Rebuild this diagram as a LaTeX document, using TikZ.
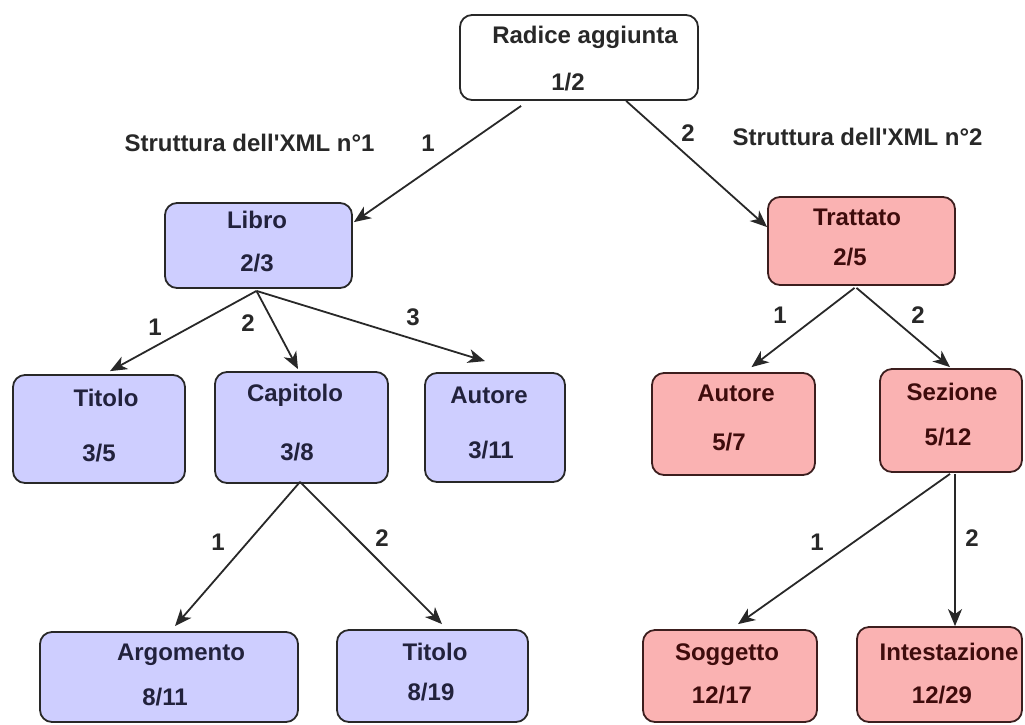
\documentclass[tikz,border=0pt]{standalone}
\usepackage{fontspec}
\setmainfont{Liberation Sans}
\usetikzlibrary{arrows.meta,calc}

\definecolor{lavfill}{RGB}{206,206,255}
\definecolor{rosefill}{RGB}{250,178,178}
\definecolor{lavtext}{RGB}{34,34,60}
\definecolor{rosetext}{RGB}{62,12,12}
\definecolor{inkgray}{RGB}{40,40,40}
\definecolor{roseedge}{RGB}{60,30,30}

\begin{document}
\begin{tikzpicture}[x=1pt,y=-1pt,
  every node/.style={font=\fontsize{24}{28}\selectfont\bfseries},
  box/.style={draw=inkgray, line width=1.8pt, rounded corners=12pt, inner sep=0pt},
  rootbox/.style={box, fill=white},
  bluebox/.style={box, fill=lavfill},
  pinkbox/.style={box, draw=roseedge, fill=rosefill},
  txt/.style={inner sep=0pt, text height=17pt, text depth=0pt, anchor=center, text=inkgray},
  bluetxt/.style={txt, text=lavtext},
  pinktxt/.style={txt, text=rosetext},
  link/.style={draw=inkgray, line width=1.8pt, -{Stealth[length=17pt,width=14pt,inset=5pt]}}
]
\useasboundingbox (0,0) rectangle (1025,724);

% ---- boxes ----
\node[rootbox, minimum width=238pt, minimum height=85pt] (radice) at (579,57.5) {};
\node[bluebox, minimum width=187pt, minimum height=85pt] (libro) at (258.5,245.5) {};
\node[pinkbox, minimum width=187pt, minimum height=88pt] (trattato) at (861.5,241) {};
\node[bluebox, minimum width=172pt, minimum height=108pt] (titoloA) at (99,429) {};
\node[bluebox, minimum width=173pt, minimum height=111pt] (capitolo) at (301.5,427.5) {};
\node[bluebox, minimum width=140pt, minimum height=109pt] (autoreA) at (495,427.5) {};
\node[pinkbox, minimum width=163pt, minimum height=102pt] (autoreB) at (733.5,424) {};
\node[pinkbox, minimum width=142pt, minimum height=103pt] (sezione) at (951,420.5) {};
\node[bluebox, minimum width=258pt, minimum height=90pt] (argomento) at (169,677) {};
\node[bluebox, minimum width=191pt, minimum height=92pt] (titoloB) at (432.5,676) {};
\node[pinkbox, minimum width=174pt, minimum height=92pt] (soggetto) at (730,676) {};
\node[pinkbox, minimum width=165pt, minimum height=95pt] (intestazione) at (939.5,674.5) {};

% ---- box texts ----
\node[txt] (radice-n) at (585,35) {Radice aggiunta};
\node[txt] (radice-v) at (568,82) {1/2};
\node[bluetxt] (libro-n) at (257,220) {Libro};
\node[bluetxt] (libro-v) at (257,263) {2/3};
\node[pinktxt] (trattato-n) at (857,217) {Trattato};
\node[pinktxt] (trattato-v) at (850,257) {2/5};
\node[bluetxt] (titoloA-n) at (106,398) {Titolo};
\node[bluetxt] (titoloA-v) at (99,453) {3/5};
\node[bluetxt] (capitolo-n) at (295,393) {Capitolo};
\node[bluetxt] (capitolo-v) at (297,452) {3/8};
\node[bluetxt] (autoreA-n) at (489,395) {Autore};
\node[bluetxt] (autoreA-v) at (491,450) {3/11};
\node[pinktxt] (autoreB-n) at (736,393) {Autore};
\node[pinktxt] (autoreB-v) at (729,442) {5/7};
\node[pinktxt] (sezione-n) at (952,392) {Sezione};
\node[pinktxt] (sezione-v) at (948,437) {5/12};
\node[bluetxt] (argomento-n) at (181,652) {Argomento};
\node[bluetxt] (argomento-v) at (165,697) {8/11};
\node[bluetxt] (titoloB-n) at (435,652) {Titolo};
\node[bluetxt] (titoloB-v) at (431,692) {8/19};
\node[pinktxt] (soggetto-n) at (727,652) {Soggetto};
\node[pinktxt] (soggetto-v) at (722,695) {12/17};
\node[pinktxt] (intestazione-n) at (949,652) {Intestazione};
\node[pinktxt] (intestazione-v) at (942,695) {12/29};

% ---- captions ----
\node[txt] (struttura1) at (249.5,143) {Struttura dell\textquotesingle XML n°1};
\node[txt] (struttura2) at (857.5,137) {Struttura dell\textquotesingle XML n°2};

% ---- connectors ----
\draw[link] ($(radice.south west)+(62,5)$) -- ($(libro.north east)+(1,20)$);
\draw[link] ($(radice.south west)+(167,0)$) -- ($(trattato.north west)+(0,31)$);

\draw[link] ($(libro.south)+(-2,2)$) -- ($(titoloA.north)+(11,-3)$);
\draw[link] ($(libro.south)+(-2,2)$) -- ($(capitolo.north)+(-3.5,-2)$);
\draw[link] ($(libro.south)+(-2,2)$) -- ($(autoreA.north)+(-10,-11)$);

\draw[link] ($(trattato.south)+(-7,2)$) -- ($(autoreB.north)+(18,-5)$);
\draw[link] ($(trattato.south)+(-5,2)$) -- ($(sezione.north)+(-1,-1)$);

\draw[link] ($(capitolo.south)+(-1.5,-2)$) -- ($(argomento.north)+(6,-5)$);
\draw[link] ($(capitolo.south)+(-1.5,-2)$) -- ($(titoloB.north)+(9.5,-5)$);

\draw[link] ($(sezione.south)+(-1,1)$) -- ($(soggetto.north)+(8,-5)$);
\draw[link] ($(sezione.south)+(4,1)$) -- ($(intestazione.north)+(15.5,0)$);

% ---- edge numbers ----
\node[txt] (e-rl) at (428,143) {1};
\node[txt] (e-rt) at (688,133) {2};
\node[txt] (e-l1) at (155,327) {1};
\node[txt] (e-l2) at (248,323) {2};
\node[txt] (e-l3) at (413,317) {3};
\node[txt] (e-t1) at (780,315) {1};
\node[txt] (e-t2) at (918,315) {2};
\node[txt] (e-c1) at (218,542) {1};
\node[txt] (e-c2) at (382,538) {2};
\node[txt] (e-s1) at (817,542) {1};
\node[txt] (e-s2) at (972,538) {2};
\end{tikzpicture}
\end{document}
